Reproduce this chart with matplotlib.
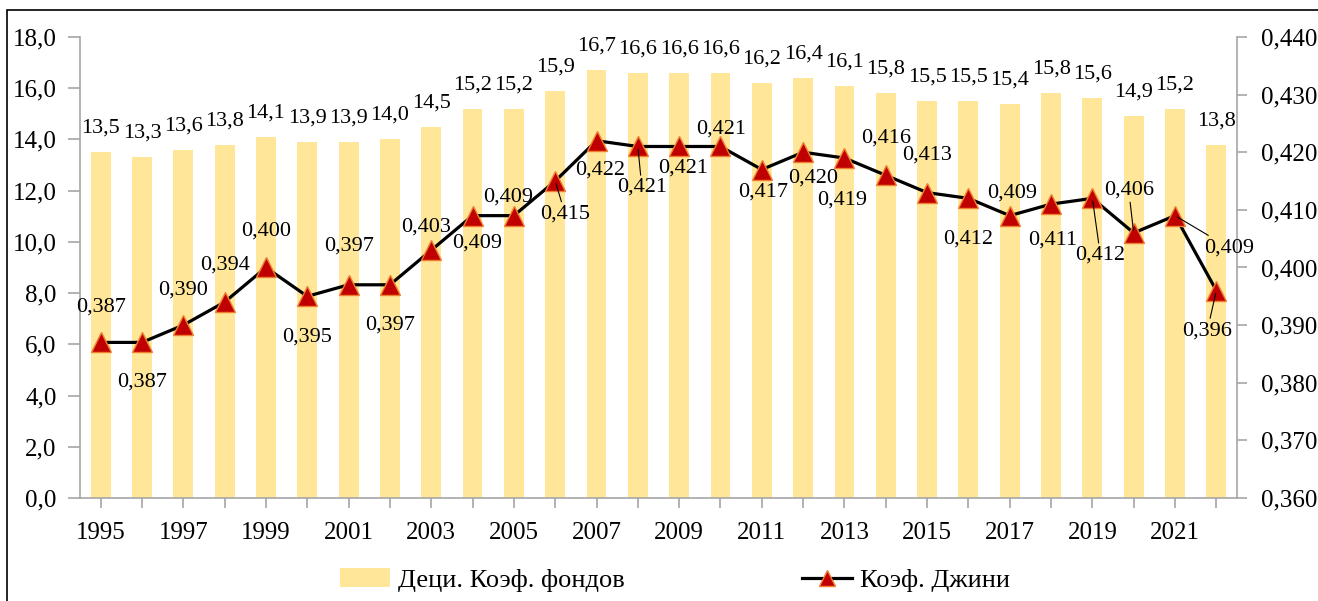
import matplotlib.pyplot as plt
from matplotlib.patches import Rectangle
from matplotlib.ticker import FuncFormatter
import numpy as np

plt.rcParams['font.family'] = 'serif'
plt.rcParams['font.serif'] = ['Liberation Serif', 'DejaVu Serif']

# ***************************** DATA *****************************
years = list(range(1995, 2023))
decile_ratio = [13.5, 13.3, 13.6, 13.8, 14.1, 13.9, 13.9, 14.0, 14.5, 15.2,
                15.2, 15.9, 16.7, 16.6, 16.6, 16.6, 16.2, 16.4, 16.1, 15.8,
                15.5, 15.5, 15.4, 15.8, 15.6, 14.9, 15.2, 13.8]
gini = [0.387, 0.387, 0.390, 0.394, 0.400, 0.395, 0.397, 0.397, 0.403, 0.409,
        0.409, 0.415, 0.422, 0.421, 0.421, 0.421, 0.417, 0.420, 0.419, 0.416,
        0.413, 0.412, 0.409, 0.411, 0.412, 0.406, 0.409, 0.396]

# label offsets for the Gini labels (pixels, dx right, dy down)
gini_label_dx = [0, 0, 0, 0, 0, 0, 0, 0, -5, 5, -6, 10, 4, 4, 4, 1, 1, 10,
                 -2, 0, 0, 0, 2, 2, 8, -5, 54, -9]
gini_label_dy = [-35, 40, -35, -37, -36, 41, -39, 40, -23, 27, -19, 33, 29,
                 41, 22, -17, 23, 26, 42, -37, -38, 41, -23, 36, 57, -43, 32, 40]
leader_years = [2006, 2008, 2019, 2020, 2021, 2022]

W, H = 1318, 601
x = np.arange(len(years))


def comma(fmt):
    return FuncFormatter(lambda v, pos: (fmt % v).replace('.', ','))


fig = plt.figure(figsize=(W / 100, H / 100), dpi=100)
ax = fig.add_axes([80 / W, 1 - 498 / H, 1157 / W, 461 / H])
ax2 = ax.twinx()

# ***************************** BARS *****************************
bars = ax.bar(x, decile_ratio, width=0.48, color='#FFE699',
              label='Деци. Коэф. фондов', zorder=2)
for xi, v in zip(x, decile_ratio):
    ax.annotate(('%.1f' % v).replace('.', ','), (xi, v),
                xytext=(0, 24), textcoords='offset pixels',
                ha='center', va='center', fontsize=16)

ax.set_xlim(-0.5, len(years) - 0.5)
ax.set_ylim(0, 18)
ax.set_yticks(np.arange(0, 18.1, 2))
ax.yaxis.set_major_formatter(comma('%.1f'))
ax.set_xticks(x)
ax.set_xticklabels([str(y) if i % 2 == 0 else '' for i, y in enumerate(years)])

# ***************************** LINE *****************************
line, = ax2.plot(x, gini, color='black', lw=2.3, marker='^', ms=15,
                 mfc='#C00000', mec='#F08030', mew=1, label='Коэф. Джини',
                 zorder=3)
for i, (xi, g) in enumerate(zip(x, gini)):
    txt = ('%.3f' % g).replace('.', ',')
    arrow = None
    if years[i] in leader_years:
        arrow = dict(arrowstyle='-', color='black', lw=0.8,
                     shrinkA=0, shrinkB=2)
    ax2.annotate(txt, (xi, g),
                 xytext=(gini_label_dx[i], -gini_label_dy[i]),
                 textcoords='offset pixels', ha='center', va='center',
                 fontsize=16, arrowprops=arrow, zorder=4)

ax2.set_ylim(0.36, 0.44)
ax2.set_yticks(np.arange(0.36, 0.4401, 0.01))
ax2.yaxis.set_major_formatter(comma('%.3f'))

# ***************************** STYLE *****************************
grey = '#A6A6A6'
for a in (ax, ax2):
    a.spines['top'].set_visible(False)
    for s in ('left', 'right', 'bottom'):
        a.spines[s].set_color(grey)
        a.spines[s].set_linewidth(1.2)
ax.spines['right'].set_visible(False)
ax2.spines['left'].set_visible(False)
ax2.spines['bottom'].set_visible(False)

ax.tick_params(axis='y', direction='out', length=9, width=1.2, color=grey,
               labelsize=18, pad=8)
ax.tick_params(axis='x', direction='out', length=7, width=1.2, color=grey,
               labelsize=18, pad=10)
ax2.tick_params(axis='y', direction='out', length=7, width=1.2, color=grey,
                labelsize=18, pad=10)

fig.legend(handles=[bars, line], loc='center',
           bbox_to_anchor=(675 / W, 1 - 580 / H), ncol=2, frameon=False,
           fontsize=19, handlelength=1.9, handletextpad=0.3,
           columnspacing=6.7, markerscale=0.8)

# outer frame
fig.patches.append(Rectangle((7 / W, -0.1), 1.2, 1 - 10 / H + 0.1,
                             transform=fig.transFigure, fill=False,
                             ec='black', lw=1.2))

fig.savefig('out.png', dpi=100)
